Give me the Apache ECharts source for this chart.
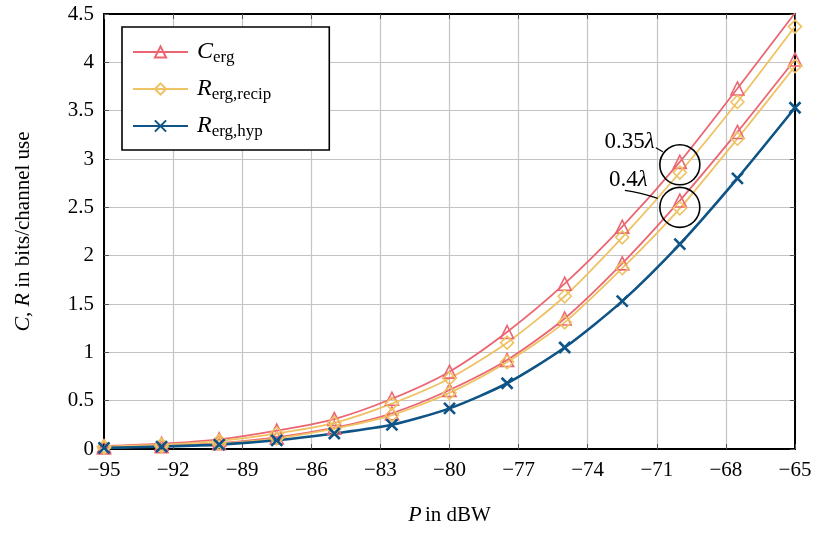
<!DOCTYPE html>
<html>
<head>
<meta charset="utf-8">
<script src="https://cdn.jsdelivr.net/npm/echarts@6/dist/echarts.min.js"></script>
<style>
  html, body { margin: 0; padding: 0; background: #fff; }
  #chart { width: 820px; height: 534px; }
</style>
</head>
<body>
<div id="chart"></div>
<script>
// Transmit power P in dBW
const powerDbw = [-95, -92.5, -90, -87.5, -85, -82.5, -80, -77.5, -75, -72.5, -70, -67.5, -65];
const xTicks = [-95, -92, -89, -86, -83, -80, -77, -74, -71, -68, -65];

// Ergodic capacity, antenna spacing 0.35 lambda and 0.4 lambda
const cErg035 = [0.03, 0.055, 0.10, 0.19, 0.31, 0.52, 0.80, 1.21, 1.71, 2.30, 2.97, 3.73, 4.51];
const cErg040 = [0.015, 0.03, 0.06, 0.12, 0.22, 0.37, 0.61, 0.92, 1.35, 1.92, 2.57, 3.28, 4.03];
// Ergodic rate with reciprocity-based precoding
const rRecip035 = [0.025, 0.045, 0.085, 0.16, 0.27, 0.47, 0.73, 1.10, 1.58, 2.19, 2.86, 3.59, 4.37];
const rRecip040 = [0.013, 0.028, 0.055, 0.11, 0.21, 0.35, 0.58, 0.90, 1.31, 1.87, 2.49, 3.21, 3.96];
// Ergodic rate with hypothesis-based precoding
const rHyp = [0.012, 0.025, 0.045, 0.09, 0.16, 0.25, 0.42, 0.68, 1.05, 1.53, 2.12, 2.80, 3.53];

const RED = '#EB6672';
const YELLOW = '#EFC263';
const BLUE = '#0E5486';
const SERIF = '"Liberation Serif", "DejaVu Serif", serif';
const FS = 21;

const pairs = ys => powerDbw.map((x, i) => [x, ys[i]]);

const chart = echarts.init(document.getElementById('chart'), null, { renderer: 'canvas' });

const crossPath = 'path://M0,0L10,10M10,0L0,10';

function lineSeries(name, data, color, symbol, size, width) {
  return {
    name: name,
    type: 'line',
    data: pairs(data),
    smooth: 0.25,
    symbol: symbol,
    symbolSize: size,
    showAllSymbol: true,
    lineStyle: { color: color, width: width },
    itemStyle: { color: 'rgba(255,255,255,0)', borderColor: color, borderWidth: 1.6 },
    emphasis: { disabled: true },
    z: 3
  };
}

const sub = { fontFamily: SERIF, fontSize: 17, padding: [11, 0, 0, 0], color: '#000' };
const ital = { fontFamily: SERIF, fontSize: 24, fontStyle: 'italic', color: '#000' };
const italAxis = { fontFamily: SERIF, fontSize: 22, fontStyle: 'italic', color: '#000' };
const roman = { fontFamily: SERIF, fontSize: 21, color: '#000' };

const legendLabels = {
  'C': '{i|C}{s|erg}',
  'Rrecip': '{i|R}{s|erg,recip}',
  'Rhyp': '{i|R}{s|erg,hyp}'
};

const hypSeries = lineSeries('Rhyp', rHyp, BLUE, crossPath, 11, 2.6);
hypSeries.itemStyle = { color: BLUE, borderColor: BLUE, borderWidth: 2.6 };

const option = {
  animation: false,
  backgroundColor: '#fff',
  grid: { left: 104, right: 25, top: 14, bottom: 85, containLabel: false },
  legend: {
    data: ['C', 'Rrecip', 'Rhyp'],
    orient: 'vertical',
    left: 122,
    top: 27,
    backgroundColor: '#fff',
    borderColor: '#000',
    borderWidth: 1.6,
    padding: [13, 58, 10, 10],
    itemWidth: 55,
    itemHeight: 14,
    itemGap: 11,
    selectedMode: false,
    formatter: n => legendLabels[n],
    textStyle: { rich: { i: ital, s: sub }, padding: [0, 0, 0, 4] }
  },
  xAxis: [{
    type: 'value',
    min: -95,
    max: -65,
    interval: 3,
    position: 'bottom',
    axisLine: { show: true, lineStyle: { color: '#000', width: 2 } },
    axisTick: { show: true, inside: true, length: 5, lineStyle: { color: '#555', width: 1 } },
    splitLine: { show: true, lineStyle: { color: '#c4c4c4', width: 1.2 } },
    axisLabel: {
      margin: 11,
      fontFamily: SERIF, fontSize: FS, color: '#000',
      formatter: v => xTicks.includes(v) ? (v < 0 ? '\u2212' + Math.abs(v) : String(v)) : ''
    },
    name: '{i|P} {r|in dBW}',
    nameLocation: 'middle',
    nameGap: 55,
    nameTextStyle: { rich: { i: italAxis, r: roman } }
  }, {
    type: 'value',
    min: -95,
    max: -65,
    interval: 3,
    position: 'top',
    axisLine: { show: true, onZero: false, lineStyle: { color: '#000', width: 2 } },
    axisTick: { show: true, inside: true, length: 5, lineStyle: { color: '#555', width: 1 } },
    splitLine: { show: false },
    axisLabel: { show: false }
  }],
  yAxis: [{
    type: 'value',
    min: 0,
    max: 4.5,
    interval: 0.5,
    position: 'left',
    axisLine: { show: true, lineStyle: { color: '#000', width: 2 } },
    axisTick: { show: true, inside: true, length: 5, lineStyle: { color: '#555', width: 1 } },
    splitLine: { show: true, lineStyle: { color: '#c4c4c4', width: 1.2 } },
    axisLabel: {
      margin: 10,
      fontFamily: SERIF, fontSize: FS, color: '#000',
      formatter: v => String(v)
    },
    name: '{i|C}{r|, }{i|R}{r| in bits/channel use}',
    nameLocation: 'middle',
    nameRotate: 90,
    nameGap: 70,
    nameTextStyle: { rich: { i: italAxis, r: roman } }
  }, {
    type: 'value',
    min: 0,
    max: 4.5,
    interval: 0.5,
    position: 'right',
    axisLine: { show: true, onZero: false, lineStyle: { color: '#000', width: 2 } },
    axisTick: { show: true, inside: true, length: 5, lineStyle: { color: '#555', width: 1 } },
    splitLine: { show: false },
    axisLabel: { show: false }
  }],
  series: [
    lineSeries('C', cErg035, RED, 'triangle', 13, 1.8),
    lineSeries('C', cErg040, RED, 'triangle', 13, 1.8),
    lineSeries('Rrecip', rRecip035, YELLOW, 'diamond', 13, 1.8),
    lineSeries('Rrecip', rRecip040, YELLOW, 'diamond', 13, 1.8),
    hypSeries
  ]
};

chart.setOption(option);

// Spacing annotations: circles around the -70 dBW points with leader lines
const at = (x, y) => chart.convertToPixel({ gridIndex: 0 }, [x, y]);
const c1 = at(-70, 2.94);
const c2 = at(-70, 2.50);
const R = 20;
const lam = { l: { fontFamily: SERIF, fontSize: 23, fontStyle: 'italic' } };
const annText = { fontFamily: SERIF, fontSize: 23, fill: '#000' };

chart.setOption({
  graphic: [
    { type: 'circle', shape: { cx: c1[0], cy: c1[1], r: R }, style: { fill: 'none', stroke: '#000', lineWidth: 1.6 }, z: 10 },
    { type: 'circle', shape: { cx: c2[0], cy: c2[1], r: R }, style: { fill: 'none', stroke: '#000', lineWidth: 1.6 }, z: 10 },
    {
      type: 'text', z: 10,
      style: Object.assign({ text: '0.35{l|λ}', x: c1[0] - 25, y: c1[1] - 23, align: 'right', verticalAlign: 'middle', rich: lam }, annText)
    },
    {
      type: 'text', z: 10,
      style: Object.assign({ text: '0.4{l|λ}', x: c2[0] - 32, y: c2[1] - 27, align: 'right', verticalAlign: 'middle', rich: lam }, annText)
    },
    { type: 'polyline', z: 10, shape: { points: [[c1[0] - 24, c1[1] - 17], [c1[0] - 17, c1[1] - 13]] }, style: { stroke: '#000', lineWidth: 1.3, fill: 'none' } },
    { type: 'bezierCurve', z: 10, shape: { x1: c2[0] - 55, y1: c2[1] - 17, cpx1: c2[0] - 40, cpy1: c2[1] - 15, x2: c2[0] - 22, y2: c2[1] - 9 }, style: { stroke: '#000', lineWidth: 1.3, fill: 'none' } }
  ]
});
</script>
</body>
</html>
